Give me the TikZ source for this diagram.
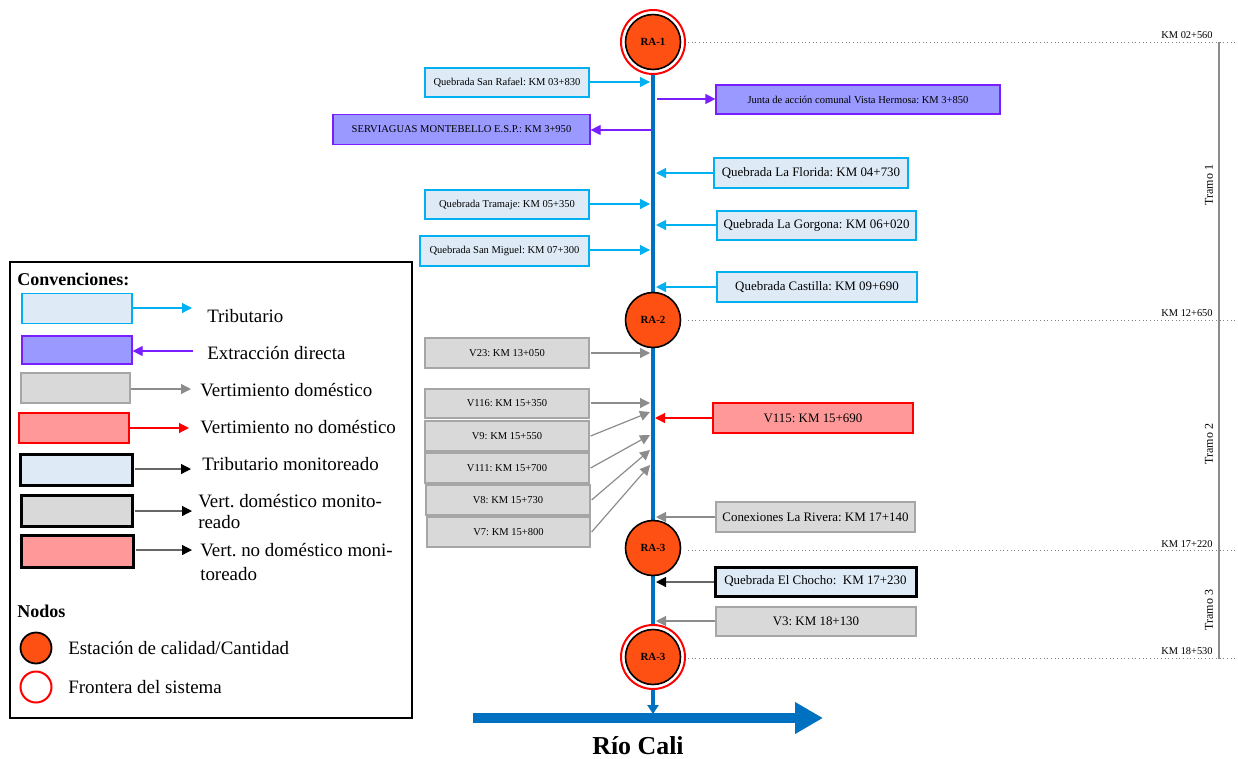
\documentclass[tikz,border=0pt]{standalone}
\usepackage{fontspec}
\setmainfont{Liberation Serif}
\usetikzlibrary{arrows.meta}
\frenchspacing
\definecolor{cyanc}{RGB}{0,176,240}
\definecolor{lblue}{RGB}{222,235,247}
\definecolor{purpc}{RGB}{120,30,255}
\definecolor{lav}{RGB}{153,153,255}
\definecolor{gfill}{RGB}{217,217,217}
\definecolor{gline}{RGB}{140,140,140}
\definecolor{gborder}{RGB}{166,166,166}
\definecolor{rfill}{RGB}{255,153,153}
\definecolor{redc}{RGB}{255,0,0}
\definecolor{orng}{RGB}{255,80,20}
\definecolor{riverc}{RGB}{0,112,192}
\tikzset{
  box/.style={rectangle, inner sep=0pt, line width=0.9pt, align=center},
  tribbox/.style={box, fill=lblue, draw=cyanc},
  extbox/.style={box, fill=lav, draw=purpc},
  greybox/.style={box, fill=gfill, draw=gborder},
  redbox/.style={box, fill=rfill, draw=redc},
  monbox/.style={line width=2.25pt, draw=black},
  lfont/.style={font=\fontsize{7.9}{9}\selectfont},
  rfont/.style={font=\fontsize{9.7}{11}\selectfont},
  tiparr/.style={-{Triangle[length=7.5pt,width=7.5pt]}},
  triba/.style={tiparr, draw=cyanc, line width=0.9pt},
  exta/.style={tiparr, draw=purpc, line width=0.9pt},
  greya/.style={tiparr, draw=gline, line width=0.9pt},
  reda/.style={tiparr, draw=redc, line width=0.9pt},
  mona/.style={-{Triangle[length=7.5pt,width=7.5pt,color=black]}, draw=black!60, line width=0.9pt},
  station/.style={circle, fill=orng, draw=black, line width=1.2pt, minimum size=41.25pt, inner sep=0pt, font=\bfseries\fontsize{8.2}{9}\selectfont},
  frontier/.style={circle, draw=redc, fill=white, line width=1.5pt, minimum size=48pt, inner sep=0pt},
  dotline/.style={draw=gray, dotted, line width=0.75pt},
  kmlab/.style={font=\fontsize{7.8}{9}\selectfont, inner sep=0pt},
  tramolab/.style={font=\fontsize{9}{10}\selectfont, rotate=90, inner sep=0pt},
  leg/.style={font=\fontsize{14.2}{16}\selectfont, anchor=west, inner sep=0pt},
  legtitle/.style={font=\bfseries\fontsize{13.5}{15}\selectfont, anchor=west, inner sep=0pt},
  legrect/.style={box, minimum width=82.5pt, minimum height=22.5pt},
}
\begin{document}
\begin{tikzpicture}[x=0.75pt, y=-0.75pt]
\useasboundingbox (0,0) rectangle (1238,758);

% ---------- river ----------
\coordinate (rtop) at (653,70);
\coordinate (rbot) at (653,714);
\coordinate (rc1) at (473,718);
\coordinate (rc2) at (823,718);
\draw[riverc, line width=3.4pt, -{Triangle[length=6.75pt,width=8.25pt]}] (rtop) -- (rbot);
\draw[riverc, line width=7.5pt, -{Triangle[length=21pt,width=22.5pt]}] (rc1) -- (rc2);
\node[font=\bfseries\fontsize{19.4}{22}\selectfont] (rio) at (638,746) {Río Cali};

% ---------- dotted km lines and tramos ----------
\foreach \yy/\nm in {42/1,320/2,550/3,658/4}{
  \coordinate (da\nm) at (688,\yy);
  \coordinate (db\nm) at (1238,\yy);
  \draw[dotline] (da\nm) -- (db\nm);
}
\node[kmlab] (km1) at (1187,35) {KM 02+560};
\node[kmlab] (km2) at (1187,313) {KM 12+650};
\node[kmlab] (km3) at (1187,544) {KM 17+220};
\node[kmlab] (km4) at (1187,651) {KM 18+530};
\coordinate (tv1) at (1219,42);
\coordinate (tv2) at (1219,659);
\draw[gline, line width=1.5pt] (tv1) -- (tv2);
\node[tramolab] (t1) at (1209,185) {Tramo 1};
\node[tramolab] (t2) at (1209,444) {Tramo 2};
\node[tramolab] (t3) at (1209,610) {Tramo 3};

% ---------- stations ----------
\node[frontier] (fr1) at (653,42) {};
\node[station] (ra1) at (653,42) {RA-1};
\node[station] (ra2) at (653,320) {RA-2};
\node[station] (ra3) at (653,548) {RA-3};
\node[frontier] (fr4) at (653,657) {};
\node[station] (ra4) at (653,657) {RA-3};

% ---------- tramo 1 boxes ----------
\node[tribbox, lfont, minimum width=123pt, minimum height=21.75pt] (sr) at (507,82.5) {Quebrada San Rafael: KM 03+830};
\node[extbox, lfont, minimum width=192.75pt, minimum height=22.5pt] (sv) at (461.5,129.5) {SERVIAGUAS MONTEBELLO E.S.P.: KM 3+950};
\node[tribbox, lfont, minimum width=123pt, minimum height=21.75pt] (tr) at (507,204.5) {Quebrada Tramaje: KM 05+350};
\node[tribbox, lfont, minimum width=126.75pt, minimum height=22.5pt] (sm) at (504.5,251) {Quebrada San Miguel: KM 07+300};
\node[extbox, lfont, minimum width=213pt, minimum height=21.75pt] (jv) at (858,99.5) {Junta de acción comunal Vista Hermosa: KM 3+850};
\node[tribbox, rfont, minimum width=145.5pt, minimum height=22.5pt] (fl) at (811,173) {Quebrada La Florida: KM 04+730};
\node[tribbox, rfont, minimum width=149.25pt, minimum height=21.75pt] (go) at (816.5,225.5) {Quebrada La Gorgona: KM 06+020};
\node[tribbox, rfont, minimum width=150pt, minimum height=22.5pt] (ca) at (817,287) {Quebrada Castilla: KM 09+690};

\coordinate (psr) at (650,82);
\coordinate (psv) at (651,130);
\coordinate (ptr) at (650,204);
\coordinate (psm) at (650,250);
\coordinate (pjv) at (657,99);
\coordinate (pfl) at (656,173);
\coordinate (pgo) at (656,225);
\coordinate (pca) at (656,287);
\draw[triba] (sr.east |- psr) -- (psr);
\draw[exta] (psv) -- (sv.east |- psv);
\draw[triba] (tr.east |- ptr) -- (ptr);
\draw[triba] (sm.east |- psm) -- (psm);
\draw[exta] (pjv) -- (jv.west |- pjv);
\draw[triba] (fl.west |- pfl) -- (pfl);
\draw[triba] (go.west |- pgo) -- (pgo);
\draw[triba] (ca.west |- pca) -- (pca);

% ---------- tramo 2 boxes ----------
\node[greybox, lfont, minimum width=123pt, minimum height=22.5pt] (v23) at (507,353) {V23: KM 13+050};
\node[greybox, lfont, minimum width=123pt, minimum height=21.75pt] (v116) at (507,403.5) {V116: KM 15+350};
\node[greybox, lfont, minimum width=123pt, minimum height=22.5pt] (v9) at (507,436) {V9: KM 15+550};
\node[greybox, lfont, minimum width=123pt, minimum height=22.5pt] (v111) at (507,468) {V111: KM 15+700};
\node[greybox, lfont, minimum width=123pt, minimum height=22.5pt] (v8) at (508,500) {V8: KM 15+730};
\node[greybox, lfont, minimum width=122.25pt, minimum height=22.5pt] (v7) at (508.5,532) {V7: KM 15+800};
\node[redbox, rfont, minimum width=150pt, minimum height=22.5pt] (v115) at (813,418) {V115: KM 15+690};
\node[greybox, rfont, minimum width=149.25pt, minimum height=22.5pt] (cr) at (815.5,517) {Conexiones La Rivera: KM 17+140};

\coordinate (pv23) at (650,353);
\coordinate (pv116) at (650,403);
\coordinate (pv9) at (650,412);
\coordinate (pv111) at (650,435);
\coordinate (pv8) at (650,450);
\coordinate (pv7) at (650,465);
\coordinate (pv115) at (655,418);
\coordinate (pcr) at (656,517);
\draw[greya] ([xshift=0.75pt]v23.east) -- (pv23);
\draw[greya] ([xshift=0.75pt]v116.east |- pv116) -- (pv116);
\draw[greya] ([xshift=0.75pt]v9.east) -- (pv9);
\draw[greya] ([xshift=0.75pt]v111.east) -- (pv111);
\draw[greya] ([xshift=0.75pt]v8.east) -- (pv8);
\draw[greya] ([xshift=0.75pt]v7.east) -- (pv7);
\draw[reda] (v115.west) -- (pv115);
\draw[greya] (cr.west) -- (pcr);

% ---------- tramo 3 boxes ----------
\node[tribbox, monbox, rfont, minimum width=150.75pt, minimum height=21.75pt] (ec) at (815.5,581.5) {Quebrada El Chocho:\ \ KM 17+230};
\node[greybox, rfont, minimum width=150pt, minimum height=21.75pt] (v3) at (816,621.5) {V3: KM 18+130};
\coordinate (pec) at (656,582);
\coordinate (pv3) at (656,621);
\draw[mona] (ec.west |- pec) -- (pec);
\draw[greya] (v3.west |- pv3) -- (pv3);

% ---------- legend ----------
\node[draw=black, line width=1.35pt, minimum width=301.5pt, minimum height=342pt, inner sep=0pt] (legend) at (211,490) {};
\node[legtitle] (lconv) at (17,279) {Convenciones:};

\node[legrect, tribbox] (l1) at (77,308.5) {};
\node[legrect, extbox, minimum height=21pt] (l2) at (77,350) {};
\node[legrect, greybox, minimum width=81.75pt] (l3) at (75.5,388) {};
\node[legrect, redbox] (l4) at (74,428) {};
\node[legrect, tribbox, monbox, minimum width=84pt, minimum height=23.25pt] (l5) at (76,469.5) {};
\node[legrect, greybox, monbox, minimum width=83.25pt, minimum height=23.25pt] (l6) at (76.5,510.5) {};
\node[legrect, redbox, monbox, minimum width=84pt, minimum height=24pt] (l7) at (77,551) {};

\coordinate (la1) at (192,308);
\coordinate (la2) at (193,351);
\coordinate (la3) at (191,389);
\coordinate (la4) at (189,428);
\coordinate (la5) at (191,469);
\coordinate (la6) at (192,511);
\coordinate (la7) at (192,550);
\draw[triba] (l1.east |- la1) -- (la1);
\draw[exta] (la2) -- (l2.east |- la2);
\draw[greya] (l3.east |- la3) -- (la3);
\draw[reda] (l4.east |- la4) -- (la4);
\draw[mona] ([xshift=1pt]l5.east |- la5) -- (la5);
\draw[mona] ([xshift=1pt]l6.east |- la6) -- (la6);
\draw[mona] ([xshift=1pt]l7.east |- la7) -- (la7);

\node[leg] (tx1) at (207,316) {Tributario};
\node[leg] (tx2) at (207,353) {Extracción directa};
\node[leg] (tx3) at (200,390) {Vertimiento doméstico};
\node[leg] (tx4) at (200,427) {Vertimiento no doméstico};
\node[leg] (tx5) at (202,464) {Tributario monitoreado};
\node[leg, align=left, font=\fontsize{14.2}{15.75}\selectfont] (tx6) at (198,511.5) {Vert. doméstico monito-\\reado};
\node[leg, align=left, font=\fontsize{14.2}{18}\selectfont] (tx7) at (200,562) {Vert. no doméstico moni-\\toreado};

\node[legtitle] (lnod) at (17,611) {Nodos};
\node[circle, fill=orng, draw=black, line width=1.35pt, minimum size=23.25pt, inner sep=0pt] (lst) at (36,648) {};
\node[circle, draw=redc, line width=1.5pt, minimum size=23.25pt, inner sep=0pt] (lfr) at (36,687) {};
\node[leg] (tx8) at (68,648) {Estación de calidad/Cantidad};
\node[leg] (tx9) at (68,687) {Frontera del sistema};
\end{tikzpicture}
\end{document}
